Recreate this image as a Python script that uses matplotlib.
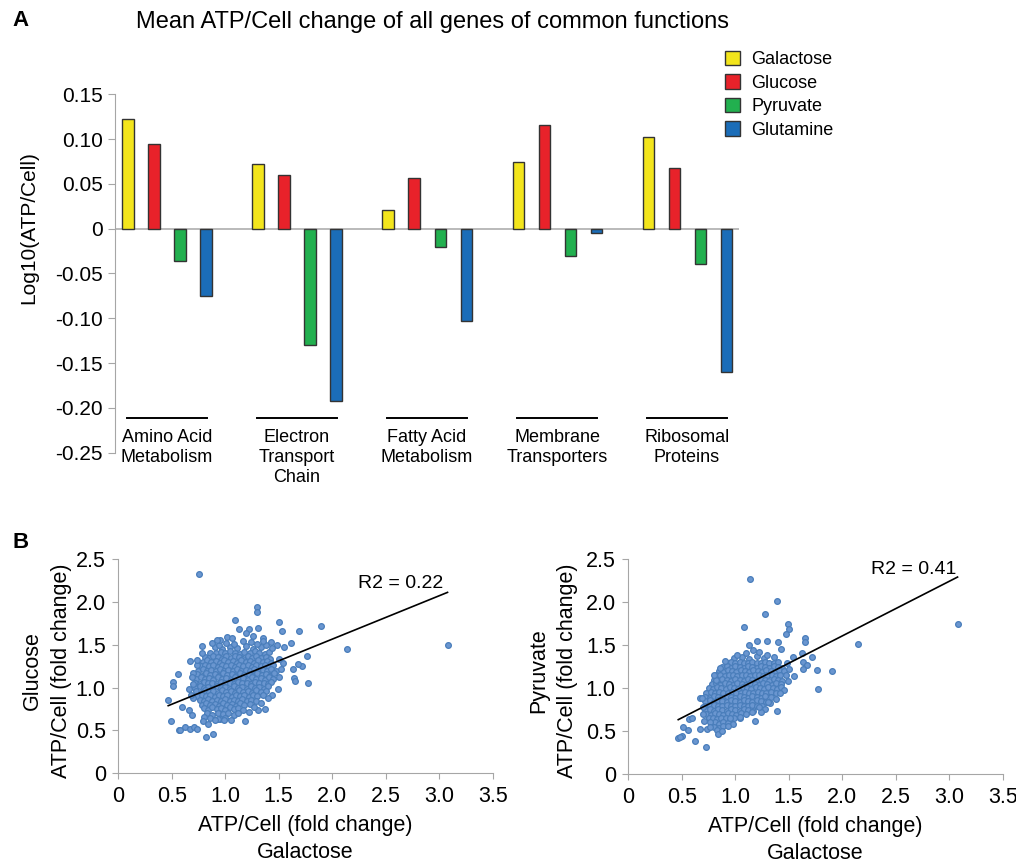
import numpy as np
import matplotlib.pyplot as plt
from matplotlib.patches import Patch

plt.rcParams['font.family'] = ['Liberation Sans', 'DejaVu Sans']

# ---- panel A data ----
categories = ['Amino Acid\nMetabolism', 'Electron\nTransport\nChain', 'Fatty Acid\nMetabolism',
              'Membrane\nTransporters', 'Ribosomal\nProteins']
media = ['Galactose', 'Glucose', 'Pyruvate', 'Glutamine']
galactose = [0.122, 0.072, 0.021, 0.074, 0.102]
glucose = [0.094, 0.060, 0.057, 0.116, 0.068]
pyruvate = [-0.036, -0.130, -0.020, -0.031, -0.039]
glutamine = [-0.075, -0.192, -0.103, -0.005, -0.160]
bar_colors = ['#f3e51c', '#e8222a', '#22b04f', '#1b6db8']
ytick_vals = [-0.25, -0.20, -0.15, -0.10, -0.05, 0, 0.05, 0.10, 0.15]
ytick_labels = ['-0.25', '-0.20', '-0.15', '-0.10', '-0.05', '0', '0.05', '0.10', '0.15']

# ---- panel B data (Galactose fold change vs Glucose / Pyruvate) ----
# dense core
glc_core = [
    (0.90,1.47),(0.97,1.45),(1.04,1.48),(1.11,1.46),(1.19,1.49),(1.26,1.45),(1.33,1.47),(1.01,1.52),
    (1.17,1.55),(1.24,1.53),(0.94,1.50),(1.38,1.50),(1.08,1.51),(1.30,1.51),
    (0.86,1.41),(0.91,1.40),(0.96,1.42),(1.00,1.40),(1.04,1.43),(1.09,1.41),(1.14,1.39),(1.18,1.42),
    (1.23,1.40),(1.28,1.43),(1.32,1.41),(1.37,1.39),(1.41,1.42),
    (0.81,1.36),(0.85,1.35),(0.89,1.37),(0.93,1.36),(0.97,1.34),(1.01,1.37),(1.05,1.35),(1.09,1.37),
    (1.13,1.36),(1.17,1.34),(1.21,1.37),(1.25,1.35),(1.29,1.37),(1.33,1.35),(1.38,1.36),(1.42,1.34),
    (0.79,1.30),(0.83,1.32),(0.87,1.30),(0.91,1.31),(0.95,1.29),(0.99,1.32),(1.03,1.30),(1.07,1.31),
    (1.11,1.29),(1.15,1.32),(1.19,1.30),(1.23,1.31),(1.27,1.29),(1.31,1.32),(1.35,1.30),(1.39,1.31),
    (1.43,1.29),
    (0.77,1.25),(0.81,1.27),(0.85,1.25),(0.89,1.26),(0.93,1.24),(0.97,1.27),(1.01,1.25),(1.05,1.26),
    (1.09,1.24),(1.13,1.27),(1.17,1.25),(1.21,1.26),(1.25,1.24),(1.29,1.27),(1.33,1.25),(1.37,1.26),
    (1.41,1.24),(1.45,1.27),
    (0.75,1.20),(0.79,1.22),(0.83,1.20),(0.87,1.21),(0.91,1.19),(0.95,1.22),(0.99,1.20),(1.03,1.21),
    (1.07,1.19),(1.11,1.22),(1.15,1.20),(1.19,1.21),(1.23,1.19),(1.27,1.22),(1.31,1.20),(1.35,1.21),
    (1.39,1.19),(1.43,1.22),(1.47,1.20),
    (0.74,1.16),(0.78,1.14),(0.82,1.17),(0.86,1.15),(0.90,1.16),(0.94,1.14),(0.98,1.17),(1.02,1.15),
    (1.06,1.16),(1.10,1.14),(1.14,1.17),(1.18,1.15),(1.22,1.16),(1.26,1.14),(1.30,1.17),(1.34,1.15),
    (1.38,1.16),(1.42,1.14),(1.46,1.17),
    (0.73,1.10),(0.77,1.12),(0.81,1.10),(0.85,1.11),(0.89,1.09),(0.93,1.12),(0.97,1.10),(1.01,1.11),
    (1.05,1.09),(1.09,1.12),(1.13,1.10),(1.17,1.11),(1.21,1.09),(1.25,1.12),(1.29,1.10),(1.33,1.11),
    (1.37,1.09),(1.41,1.12),(1.45,1.10),
    (0.72,1.06),(0.76,1.04),(0.80,1.07),(0.84,1.05),(0.88,1.06),(0.92,1.04),(0.96,1.07),(1.00,1.05),
    (1.04,1.06),(1.08,1.04),(1.12,1.07),(1.16,1.05),(1.20,1.06),(1.24,1.04),(1.28,1.07),(1.32,1.05),
    (1.36,1.06),(1.40,1.04),(1.43,1.07),
    (0.72,1.00),(0.76,1.02),(0.80,1.00),(0.84,1.01),(0.88,0.99),(0.92,1.02),(0.96,1.00),(1.00,1.01),
    (1.04,0.99),(1.08,1.02),(1.12,1.00),(1.16,1.01),(1.20,0.99),(1.24,1.02),(1.28,1.00),(1.32,1.01),
    (1.36,0.99),(1.40,1.02),
    (0.73,0.96),(0.77,0.94),(0.81,0.97),(0.85,0.95),(0.89,0.96),(0.93,0.94),(0.97,0.97),(1.01,0.95),
    (1.05,0.96),(1.09,0.94),(1.13,0.97),(1.17,0.95),(1.21,0.96),(1.25,0.94),(1.29,0.97),(1.33,0.95),
    (1.38,0.96),
    (0.74,0.90),(0.78,0.92),(0.82,0.90),(0.86,0.91),(0.90,0.89),(0.94,0.92),(0.98,0.90),(1.02,0.91),
    (1.06,0.89),(1.10,0.92),(1.14,0.90),(1.18,0.91),(1.22,0.89),(1.26,0.92),(1.30,0.90),(1.35,0.91),
    (0.76,0.86),(0.80,0.84),(0.84,0.87),(0.88,0.85),(0.92,0.86),(0.96,0.84),(1.00,0.87),(1.04,0.85),
    (1.08,0.86),(1.12,0.84),(1.16,0.87),(1.20,0.85),(1.24,0.86),(1.29,0.84),
    (0.78,0.80),(0.82,0.82),(0.86,0.80),(0.90,0.81),(0.94,0.79),(0.98,0.82),(1.02,0.80),(1.06,0.81),
    (1.10,0.79),(1.14,0.82),(1.18,0.80),(1.23,0.81),
    (0.80,0.76),(0.84,0.74),(0.88,0.77),(0.92,0.75),(0.96,0.76),(1.00,0.74),(1.04,0.77),(1.08,0.75),
    (1.12,0.76),(1.17,0.74),
    (0.83,0.70),(0.88,0.68),(0.93,0.71),(0.98,0.69),(1.03,0.70),(1.08,0.68),(1.12,0.71),
    (0.86,0.64),(0.95,0.63),(0.80,0.66),(1.00,0.65),
]
# scattered points around the core
glc_outer = [
    (0.754,2.333),(1.293,1.947),(1.299,1.885),(1.087,1.791),(1.505,1.772),(1.897,1.721),(1.685,1.667),
    (1.527,1.667),(2.143,1.452),(3.078,1.499),(1.760,1.371),(1.713,1.258),(1.676,1.273),(1.629,1.215),
    (1.645,1.110),(1.651,1.079),(1.776,1.055),(1.536,1.285),(1.548,1.480),(1.611,1.519),(0.782,1.491),
    (0.670,1.312),(0.555,1.157),(0.508,1.071),(0.508,1.020),(0.467,0.861),(0.489,0.611),(0.567,0.506),
    (0.576,0.500),(0.626,0.545),(0.673,0.514),(0.704,0.537),(0.738,0.514),(0.822,0.428),(0.888,0.456),
    (0.794,0.615),(0.838,0.572),(0.928,0.631),(0.988,0.627),(1.184,0.615),(1.305,0.740),(1.374,0.755),
    (0.657,0.981),(0.657,0.740),(0.685,0.681),(0.592,0.779),(0.701,1.168),(0.732,1.266),(1.221,1.686),
    (1.308,1.702),(1.128,1.682),(1.190,1.643),(0.950,1.558),(1.012,1.597),(1.424,1.538),(1.480,1.499),
    (1.355,1.577),(1.50,1.34),(1.52,1.22),(1.50,1.12),(1.49,0.98),(1.44,0.92),(1.40,0.88),(1.33,0.82),
    (1.27,0.78),(1.22,0.72),(0.70,0.88),(0.68,0.92),(0.70,1.04),(0.69,1.12),(0.74,1.32),(0.78,1.40),
    (0.88,1.52),(0.92,1.56),(1.06,1.58),(1.26,1.60),(1.35,1.54),(1.44,1.46),(0.90,0.62),(1.05,0.62),
]
glc_slope, glc_intercept, glc_r2 = 0.507, 0.553, 0.22

pyr_core = [
    (0.99,1.35),(1.06,1.36),(1.13,1.34),(1.20,1.37),(1.27,1.35),(1.10,1.41),(1.22,1.42),(1.30,1.39),
    (0.92,1.30),(0.96,1.31),(1.00,1.29),(1.04,1.31),(1.08,1.30),(1.12,1.29),(1.16,1.31),(1.20,1.30),
    (1.24,1.29),(1.28,1.31),(1.32,1.30),(1.36,1.29),(1.40,1.31),
    (0.88,1.25),(0.92,1.26),(0.96,1.24),(1.00,1.26),(1.04,1.25),(1.08,1.24),(1.12,1.26),(1.16,1.25),
    (1.20,1.24),(1.24,1.26),(1.28,1.25),(1.32,1.24),(1.36,1.26),(1.40,1.25),(1.44,1.24),
    (0.85,1.20),(0.89,1.19),(0.93,1.21),(0.97,1.20),(1.01,1.19),(1.05,1.21),(1.09,1.20),(1.13,1.19),
    (1.17,1.21),(1.21,1.20),(1.25,1.19),(1.29,1.21),(1.33,1.20),(1.37,1.19),(1.41,1.21),(1.46,1.20),
    (0.82,1.15),(0.86,1.16),(0.90,1.14),(0.94,1.16),(0.98,1.15),(1.02,1.14),(1.06,1.16),(1.10,1.15),
    (1.14,1.14),(1.18,1.16),(1.22,1.15),(1.26,1.14),(1.30,1.16),(1.34,1.15),(1.38,1.14),(1.42,1.16),
    (1.47,1.15),
    (0.80,1.10),(0.84,1.09),(0.88,1.11),(0.92,1.10),(0.96,1.09),(1.00,1.11),(1.04,1.10),(1.08,1.09),
    (1.12,1.11),(1.16,1.10),(1.20,1.09),(1.24,1.11),(1.28,1.10),(1.32,1.09),(1.36,1.11),(1.40,1.10),
    (1.44,1.09),
    (0.78,1.05),(0.82,1.06),(0.86,1.04),(0.90,1.06),(0.94,1.05),(0.98,1.04),(1.02,1.06),(1.06,1.05),
    (1.10,1.04),(1.14,1.06),(1.18,1.05),(1.22,1.04),(1.26,1.06),(1.30,1.05),(1.34,1.04),(1.38,1.06),
    (1.43,1.05),
    (0.75,1.00),(0.79,0.99),(0.83,1.01),(0.87,1.00),(0.91,0.99),(0.95,1.01),(0.99,1.00),(1.03,0.99),
    (1.07,1.01),(1.11,1.00),(1.15,0.99),(1.19,1.01),(1.23,1.00),(1.27,0.99),(1.31,1.01),(1.35,1.00),
    (1.39,0.99),(1.43,1.01),
    (0.73,0.95),(0.77,0.96),(0.81,0.94),(0.85,0.96),(0.89,0.95),(0.93,0.94),(0.97,0.96),(1.01,0.95),
    (1.05,0.94),(1.09,0.96),(1.13,0.95),(1.17,0.94),(1.21,0.96),(1.25,0.95),(1.29,0.94),(1.33,0.96),
    (1.38,0.95),
    (0.72,0.90),(0.76,0.89),(0.80,0.91),(0.84,0.90),(0.88,0.89),(0.92,0.91),(0.96,0.90),(1.00,0.89),
    (1.04,0.91),(1.08,0.90),(1.12,0.89),(1.16,0.91),(1.20,0.90),(1.24,0.89),(1.28,0.91),(1.33,0.90),
    (0.72,0.85),(0.76,0.86),(0.80,0.84),(0.84,0.86),(0.88,0.85),(0.92,0.84),(0.96,0.86),(1.00,0.85),
    (1.04,0.84),(1.08,0.86),(1.12,0.85),(1.16,0.84),(1.20,0.86),(1.24,0.85),(1.29,0.84),
    (0.72,0.80),(0.76,0.79),(0.80,0.81),(0.84,0.80),(0.88,0.79),(0.92,0.81),(0.96,0.80),(1.00,0.79),
    (1.04,0.81),(1.08,0.80),(1.12,0.79),(1.16,0.81),(1.20,0.80),(1.25,0.79),
    (0.72,0.75),(0.76,0.76),(0.80,0.74),(0.84,0.76),(0.88,0.75),(0.92,0.74),(0.96,0.76),(1.00,0.75),
    (1.04,0.74),(1.08,0.76),(1.12,0.75),(1.17,0.74),
    (0.73,0.70),(0.77,0.69),(0.81,0.71),(0.85,0.70),(0.89,0.69),(0.93,0.71),(0.97,0.70),(1.01,0.69),
    (1.05,0.71),(1.10,0.70),
    (0.75,0.65),(0.79,0.66),(0.83,0.64),(0.87,0.66),(0.91,0.65),(0.95,0.64),(0.99,0.66),(1.04,0.65),
    (0.77,0.60),(0.81,0.61),(0.85,0.59),(0.89,0.61),(0.93,0.60),(0.98,0.59),
    (0.80,0.55),(0.85,0.54),(0.89,0.56),
]
pyr_outer = [
    (1.134,2.267),(1.393,2.019),(1.274,1.864),(1.081,1.709),(1.495,1.744),(1.502,1.690),(1.474,1.628),
    (3.078,1.748),(2.150,1.512),(1.651,1.589),(1.651,1.535),(1.293,1.554),(1.199,1.554),(1.131,1.504),
    (1.396,1.535),(1.424,1.453),(1.713,1.368),(1.620,1.407),(1.542,1.360),(1.636,1.310),(1.667,1.271),
    (1.766,1.213),(1.900,1.202),(1.629,1.221),(1.548,1.147),(1.776,0.996),(1.386,0.740),(1.277,0.760),
    (1.187,0.620),(0.950,0.651),(1.044,0.671),(0.826,0.516),(0.732,0.527),(0.670,0.523),(0.626,0.391),
    (0.561,0.516),(0.514,0.554),(0.498,0.450),(0.467,0.419),(0.483,0.430),(0.726,0.322),(0.570,0.647),
    (0.592,0.651),(0.670,0.884),(0.688,0.891),(0.841,0.469),(0.763,0.612),(1.324,0.826),(1.240,0.729),
    (1.48,1.30),(1.50,1.22),(1.49,1.08),(1.46,0.98),(1.42,0.94),(1.38,0.88),(1.31,0.84),(1.22,0.78),
    (1.16,0.72),(0.70,0.78),(0.70,0.70),(0.71,0.62),(0.76,0.55),(0.82,1.10),(0.80,1.16),(0.86,1.24),
    (0.90,1.32),(1.02,1.39),(1.17,1.44),(1.36,1.36),(0.93,0.56),(0.88,0.50),
]
pyr_slope, pyr_intercept, pyr_r2 = 0.635, 0.339, 0.41

b_ticks_x = [0, 0.5, 1.0, 1.5, 2.0, 2.5, 3.0, 3.5]
b_ticks_y = [0, 0.5, 1.0, 1.5, 2.0, 2.5]

fig = plt.figure(figsize=(10.16, 8.67), dpi=100)
gray = '#a6a6a6'

# ---------------- panel A ----------------
axA = fig.add_axes([0.1132, 0.4779, 0.6142, 0.4134])
x = np.arange(len(categories))
offsets = [-0.3, -0.1, 0.1, 0.3]
for k, vals in enumerate([galactose, glucose, pyruvate, glutamine]):
    axA.bar(x + offsets[k], vals, width=0.085, color=bar_colors[k], edgecolor='#333333',
            linewidth=1.0, zorder=3)
axA.axhline(0, color='#b4b4b4', lw=1.3, zorder=2)
axA.set_xlim(-0.4, 4.4)
axA.set_ylim(-0.25, 0.15)
axA.set_yticks(ytick_vals)
axA.set_yticklabels(ytick_labels)
axA.set_xticks([])
for s in ['top', 'right', 'bottom']:
    axA.spines[s].set_visible(False)
axA.spines['left'].set_color(gray)
axA.tick_params(axis='y', direction='out', length=5, color=gray, labelsize=15, pad=4)
for i, cat in enumerate(categories):
    axA.plot([x[i] - 0.31, x[i] + 0.31], [-0.2116, -0.2116], color='black', lw=1.4, clip_on=False)
    axA.text(x[i], -0.2235, cat, ha='center', va='top', fontsize=13, linespacing=1.25)
axA.set_ylabel('Log10(ATP/Cell)', fontsize=15)
axA.yaxis.set_label_coords(-0.123, 0.627)

handles = [Patch(facecolor=c, edgecolor='#333333', linewidth=1.0) for c in bar_colors]
fig.legend(handles, media, loc='upper left', bbox_to_anchor=(725 / 1016, 1 - 51 / 867),
           frameon=False, fontsize=13, handlelength=0.85, handleheight=0.85,
           handletextpad=0.6, labelspacing=0.33, borderpad=0, borderaxespad=0)

fig.text(433 / 1016, 1 - 22 / 867, 'Mean ATP/Cell change of all genes of common functions',
         ha='center', va='center', fontsize=17)
fig.text(12 / 1016, 1 - 20 / 867, 'A', fontsize=16, fontweight='bold', va='center')
fig.text(12 / 1016, 1 - 543 / 867, 'B', fontsize=16, fontweight='bold', va='center')

# ---------------- panel B ----------------
def scatter_panel(ax, core, outer, slope, intercept, r2, name, r2_pos, ylab_x):
    pts = np.array(core + outer)
    ax.scatter(pts[:, 0], pts[:, 1], s=17, facecolor='#6a96d0', edgecolor='#4a7ebb',
               linewidths=0.9, zorder=3)
    xs = np.array([pts[:, 0].min(), pts[:, 0].max()])
    ax.plot(xs, slope * xs + intercept, color='black', lw=1.2, zorder=4)
    ax.text(r2_pos[0], r2_pos[1], 'R2 = %.2f' % r2, fontsize=14, va='center', ha='left')
    ax.set_xlim(0, 3.5)
    ax.set_ylim(0, 2.5)
    ax.set_xticks(b_ticks_x)
    ax.set_xticklabels(['0'] + ['%.1f' % v for v in b_ticks_x[1:]])
    ax.set_yticks(b_ticks_y)
    ax.set_yticklabels(['0'] + ['%.1f' % v for v in b_ticks_y[1:]])
    for s in ['top', 'right']:
        ax.spines[s].set_visible(False)
    for s in ['left', 'bottom']:
        ax.spines[s].set_color(gray)
    ax.tick_params(direction='out', length=4, color=gray, labelsize=15.5, pad=5)
    ax.set_xlabel('ATP/Cell (fold change)\nGalactose', fontsize=15.5, linespacing=1.35,
                  labelpad=6)
    ax.set_ylabel(name + '\nATP/Cell (fold change)', fontsize=15.5, linespacing=1.5)
    ax.yaxis.set_label_coords(ylab_x, 0.48)


axB1 = fig.add_axes([0.1164, 0.1081, 0.3685, 0.2468])
scatter_panel(axB1, glc_core, glc_outer, glc_slope, glc_intercept, glc_r2, 'Glucose',
              (2.24, 2.22), -0.124)
axB2 = fig.add_axes([0.6184, 0.1069, 0.3685, 0.248])
scatter_panel(axB2, pyr_core, pyr_outer, pyr_slope, pyr_intercept, pyr_r2, 'Pyruvate',
              (2.27, 2.38), -0.134)

fig.savefig('out.png', dpi=100)
